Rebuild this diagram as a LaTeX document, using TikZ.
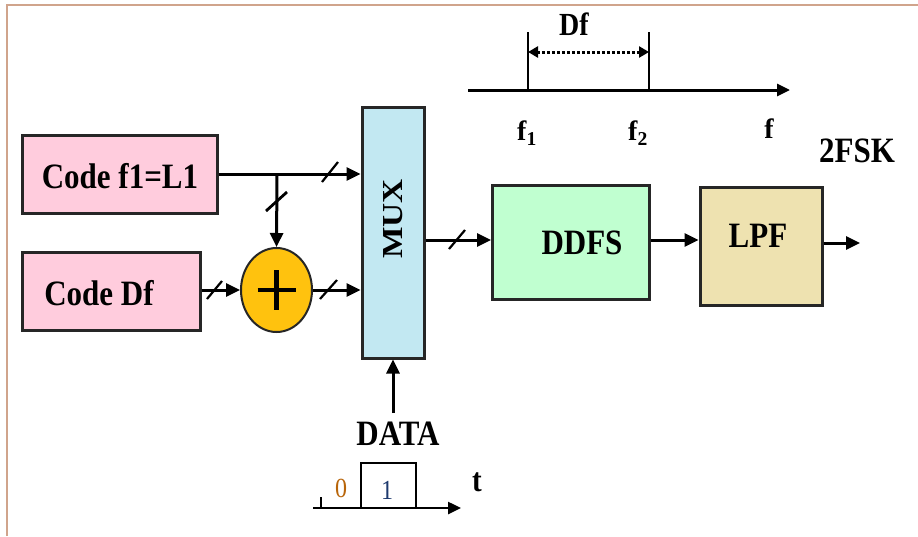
\documentclass[tikz,border=0pt]{standalone}
\usepackage{fontspec}
\setmainfont{Liberation Serif}
\usetikzlibrary{arrows.meta,shapes.geometric}
\definecolor{pinkfill}{HTML}{FFCCDD}
\definecolor{muxfill}{HTML}{C2E8F2}
\definecolor{ddfsfill}{HTML}{C0FFD0}
\definecolor{lpffill}{HTML}{EEE2B0}
\definecolor{adderfill}{HTML}{FFC20E}
\definecolor{framecol}{HTML}{D0A48C}
\definecolor{zerocol}{HTML}{B8650A}
\definecolor{onecol}{HTML}{1E3A6E}
\newcommand\vst[1]{\scalebox{1}[1.15]{#1}}
\begin{document}
\begin{tikzpicture}[x=1pt,y=-1pt,
  blk/.style={draw=black!85, line width=3pt, inner sep=0pt},
  lbl/.style={font=\bfseries\fontsize{31}{36}\selectfont, inner sep=0pt},
  sml/.style={font=\bfseries\fontsize{28}{32}\selectfont, inner sep=0pt},
  sig/.style={line width=3pt, -{Triangle[length=14pt,width=13pt]}},
  slashln/.style={line width=2.2pt},
]
\useasboundingbox (0,0) rectangle (918,536);
\draw[framecol, line width=2pt] (7,536) -- (7,5) -- (918,5);

% blocks
\node[blk, fill=pinkfill, minimum width=195pt, minimum height=78pt] (f1) at (119.5,174) {};
\node[lbl] (f1t) at (120,176) {\vst{Code f1=L1}};
\node[blk, fill=pinkfill, minimum width=178pt, minimum height=78pt] (df) at (111,291) {};
\node[lbl] (dft) at (99,293) {\vst{Code Df}};
\node[blk, ellipse, fill=adderfill, minimum width=71pt, minimum height=84pt, line width=2pt] (add) at (276.5,290) {};
\draw[line width=4.5pt] (add.center) ++(-19,0) -- ++(38,0);
\draw[line width=4.5pt] (add.center) ++(0,-20) -- ++(0,40);
\node[blk, fill=muxfill, minimum width=62pt, minimum height=251pt] (mux) at (393,232.5) {};
\node[inner sep=0pt, rotate=90, font=\bfseries\fontsize{29}{34}\selectfont] (muxt) at (393,219) {\scalebox{1.15}[1]{MUX}};
\node[blk, fill=ddfsfill, minimum width=157pt, minimum height=114pt] (ddfs) at (571,242) {};
\node[lbl] (ddfst) at (582,243) {\vst{DDFS}};
\node[blk, fill=lpffill, minimum width=122pt, minimum height=118pt] (lpf) at (761,246) {};
\node[lbl] (lpft) at (758,236) {\vst{LPF}};

% connectors
\coordinate (j) at (277,174);
\draw[sig] (f1.east) -- (f1.east -| mux.west);
\draw[sig] (j) -- (add.north);
\draw[sig] (df.east |- add.west) -- (add.west);
\draw[sig] (add.east) -- (add.east -| mux.west);
\coordinate (mo) at (mux.east |- 0,240);
\draw[sig] (mo) -- (mo -| ddfs.west);
\coordinate (dout) at (ddfs.east |- 0,240);
\draw[sig] (dout) -- (dout -| lpf.west);
\coordinate (lout) at (lpf.east |- 0,243);
\coordinate (lend) at (860,243);
\draw[sig] (lout) -- (lend);

% bus slashes
\draw[slashln] (322,182) -- (338,162);
\draw[slashln, line width=2.8pt] (266,211) -- (287,192);
\draw[slashln] (207,299) -- (222,281);
\draw[slashln] (320,299) -- (337,280);
\draw[slashln] (449,249) -- (465,230);

% DATA
\node[lbl] (data) at (398,434) {\vst{DATA}};
\coordinate (ds) at (mux.south |- 0,413);
\draw[sig] (ds) -- (mux.south);

% pulse
\coordinate (p0) at (313,508);
\coordinate (p1) at (461,508);
\draw[line width=2.5pt, -{Triangle[length=13pt,width=12pt]}] (p0) -- (p1);
\draw[line width=2pt] (321,497) -- (321,508);
\draw[line width=2.5pt] (361,508) -- (361,463) -- (416,463) -- (416,508);
\node[inner sep=0pt, font=\fontsize{24}{28}\selectfont, text=zerocol] (zero) at (341,488) {\vst{0}};
\node[inner sep=0pt, font=\fontsize{24}{28}\selectfont, text=onecol] (one) at (387,490) {\vst{1}};
\node[inner sep=0pt, font=\bfseries\fontsize{29}{32}\selectfont] (tt) at (477,482) {\vst{t}};

% frequency axis
\coordinate (a0) at (468,90);
\coordinate (a1) at (790,90);
\draw[line width=3pt, -{Triangle[length=13pt,width=12pt]}] (a0) -- (a1);
\coordinate (v1) at (528,32);
\coordinate (v2) at (649,32);
\draw[line width=2.5pt] (v1) -- (v1 |- a0);
\draw[line width=2.5pt] (v2) -- (v2 |- a0);
\draw[line width=3pt, dotted, {Triangle[length=10pt,width=11pt]}-{Triangle[length=10pt,width=11pt]}] (v1 |- 0,52) -- (v2 |- 0,52);
\node[sml] (dflab) at (574,24) {\vst{Df}};
\node[sml] (f1lab) at (527,133) {f\textsubscript{1}};
\node[sml] (f2lab) at (638,133) {f\textsubscript{2}};
\node[sml] (flab) at (769,129) {f};
\node[lbl] (fsk) at (857,151) {\vst{2FSK}};
\end{tikzpicture}
\end{document}
